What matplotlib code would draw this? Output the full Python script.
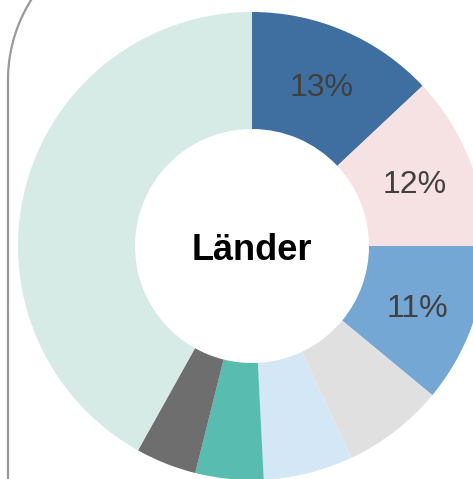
import numpy as np
import matplotlib.pyplot as plt
from matplotlib.lines import Line2D

# donut slices, clockwise from 12 o'clock
shares = [13, 12, 11, 7, 6.2, 4.7, 4.2, 41.9]
pct_labels = ["13%", "12%", "11%", "", "", "", "", ""]
colors = ["#3E6FA0", "#F6E2E3", "#74A7D3", "#E0E0E0",
          "#D4E7F7", "#58BDB0", "#6E6E6E", "#D6EAE6"]
center_label = "Länder"

plt.rcParams['font.family'] = ['Liberation Sans', 'DejaVu Sans']

W, H = 473, 479
fig = plt.figure(figsize=(W / 100, H / 100), dpi=100)

# donut centre at (252, 246) px, outer radius 234 px -> axes runs off the right/bottom edge
cx, cy, r = 252, 246, 234
ax = fig.add_axes([(cx - r) / W, (H - cy - r) / H, 2 * r / W, 2 * r / H])

wedges, _ = ax.pie(shares, colors=colors, startangle=90, counterclock=False,
                   radius=1, wedgeprops=dict(width=0.5, linewidth=0))

for w, lab in zip(wedges, pct_labels):
    ang = np.deg2rad((w.theta1 + w.theta2) / 2)
    ax.text(0.75 * np.cos(ang), 0.75 * np.sin(ang), lab, ha='center',
            va='center_baseline', fontsize=23, color='#404040')

ax.text(0, 0, center_label, ha='center', va='center_baseline', fontsize=26,
        fontweight='bold', color='black')
ax.set_xlim(-1, 1)
ax.set_ylim(-1, 1)
ax.set_aspect('equal')
ax.axis('off')

# rounded panel border on the left
t = np.linspace(np.pi, np.pi / 2 + 0.55, 40)
xs = np.concatenate([[8, 8], 158 + 150 * np.cos(t)])
ys = np.concatenate([[H + 5, 80], 80 - 150 * np.sin(t)])
fig.add_artist(Line2D(xs / W, 1 - ys / H, transform=fig.transFigure,
                      color='#999999', linewidth=1.6))

fig.savefig("out.png", dpi=100)
